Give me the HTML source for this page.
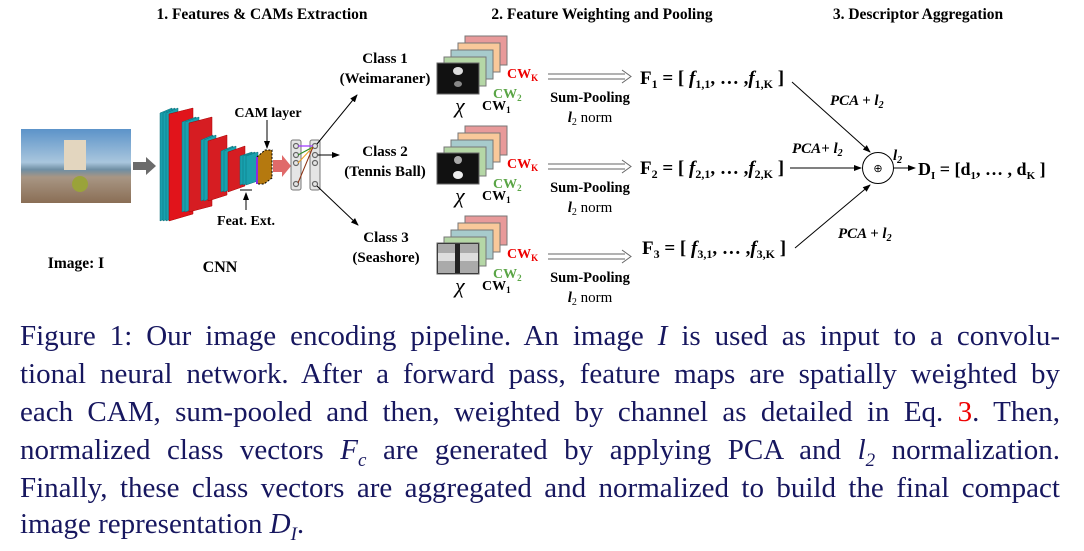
<!DOCTYPE html>
<html><head><meta charset="utf-8"><style>
html,body{margin:0;padding:0;background:#fff;}
body{width:1084px;height:545px;position:relative;overflow:hidden;font-family:"Liberation Serif",serif;}
svg{position:absolute;left:0;top:0;}
.cap{position:absolute;left:20px;width:1040px;font-size:29px;color:#17175f;text-align:justify;text-align-last:justify;white-space:nowrap;line-height:32px;}
.cap.last{text-align-last:left;}
</style></head><body>
<svg width="1084" height="310" viewBox="0 0 1084 310" font-family="Liberation Serif, serif">
<defs>
<marker id="ah" markerWidth="8" markerHeight="8" refX="7" refY="4" orient="auto" markerUnits="userSpaceOnUse"><path d="M0,1 L8,4 L0,7 z" fill="#000"/></marker>
<linearGradient id="sky" x1="0" y1="0" x2="0" y2="1"><stop offset="0" stop-color="#5c93c9"/><stop offset="0.45" stop-color="#a9c6dd"/><stop offset="0.55" stop-color="#6f8ea3"/><stop offset="0.65" stop-color="#a89684"/><stop offset="1" stop-color="#8a6e55"/></linearGradient>
</defs>
<g font-weight="bold" font-size="15.5" text-anchor="middle">
<text x="262" y="19">1. Features &amp; CAMs Extraction</text>
<text x="602" y="19">2. Feature Weighting and Pooling</text>
<text x="918" y="19">3. Descriptor Aggregation</text>
</g>
<rect x="21" y="129" width="110" height="74" fill="url(#sky)"/>
<rect x="64" y="140" width="22" height="30" fill="#e3d6bf"/>
<circle cx="80" cy="184" r="8" fill="#9aa33a"/>
<path d="M133,162 H146 V157 L156,166 L146,175 V170 H133 z" fill="#6b6b6b"/>
<g stroke="#0a6f78" stroke-width="0.5">
<polygon points="160,113 172,108 172,216 160,221" fill="#1aa0ad"/>
<polygon points="163,113 175,108 175,216 163,221" fill="#17a2b0"/>
<polygon points="166,113 178,108 178,216 166,221" fill="#1aa0ad"/>
<polygon points="169,114 193,108 193,214 169,221" fill="#e1141b" stroke="#a00"/>
<polygon points="182,122 196,117 196,207 182,212" fill="#1aa0ad"/>
<polygon points="185,122 199,117 199,207 185,212" fill="#17a2b0"/>
<polygon points="189,123 212,117 212,206 189,212" fill="#d61d22" stroke="#a00"/>
<polygon points="201,140 213,135 213,196 201,201" fill="#1aa0ad"/>
<polygon points="204,140 216,135 216,196 204,201" fill="#17a2b0"/>
<polygon points="208,141 227,135 227,195 208,201" fill="#d61d22" stroke="#a00"/>
<polygon points="221,151 233,146 233,187 221,192" fill="#1aa0ad"/>
<polygon points="224,151 236,146 236,187 224,192" fill="#17a2b0"/>
<polygon points="228,152 245,146 245,186 228,192" fill="#d61d22" stroke="#a00"/>
<polygon points="240,156 252,152 252,181 240,185" fill="#1aa0ad"/>
<polygon points="243,156 255,152 255,181 243,185" fill="#17a2b0"/>
<polygon points="246,156 258,152 258,181 246,185" fill="#1aa0ad"/>
</g>
<polygon points="257,157 265,150 272,150 272,178 264,184 257,184" fill="#b5790f" stroke="#000" stroke-dasharray="2,1.5"/>
<line x1="257" y1="157" x2="257" y2="184" stroke="#8a2be2" stroke-width="2"/>
<text x="268" y="117" font-weight="bold" font-size="14" text-anchor="middle">CAM layer</text>
<line x1="267" y1="120" x2="267" y2="148" stroke="#000" marker-end="url(#ah)"/>
<line x1="240" y1="190" x2="252" y2="190" stroke="#000"/>
<line x1="246" y1="210" x2="246" y2="193" stroke="#000" marker-end="url(#ah)"/>
<text x="246" y="225" font-weight="bold" font-size="14" text-anchor="middle">Feat. Ext.</text>
<path d="M273,160 H282 V155 L291,166 L282,177 V172 H273 z" fill="#e06a6a"/>
<rect x="291" y="140" width="10" height="50" rx="2" fill="#e5e5e5" stroke="#777"/>
<rect x="310" y="140" width="10" height="50" rx="2" fill="#e5e5e5" stroke="#777"/>
<g fill="none" stroke="#666" stroke-width="1.2">
<circle cx="296" cy="146" r="2.5"/><circle cx="296" cy="155" r="2.5"/><circle cx="296" cy="163" r="2.5"/><circle cx="296" cy="184" r="2.5"/>
<circle cx="315" cy="146" r="2.5"/><circle cx="315" cy="155" r="2.5"/><circle cx="315" cy="163" r="2.5"/><circle cx="315" cy="184" r="2.5"/>
</g>
<line x1="298" y1="146" x2="313" y2="146" stroke="#a040ff" stroke-width="1.3"/>
<line x1="298" y1="155" x2="313" y2="147" stroke="#2e8b20" stroke-width="1"/>
<line x1="298" y1="163" x2="313" y2="147" stroke="#f0a020" stroke-width="1"/>
<line x1="298" y1="183" x2="313" y2="147" stroke="#8b3010" stroke-width="1"/>
<g stroke="#000" stroke-width="1" marker-end="url(#ah)">
<line x1="317" y1="144" x2="357" y2="95"/>
<line x1="318" y1="155" x2="339" y2="155"/>
<line x1="317" y1="186" x2="358" y2="225"/>
</g>
<g font-weight="bold" font-size="15" text-anchor="middle">
<text x="385" y="63">Class 1</text><text x="385" y="83">(Weimaraner)</text>
<text x="385" y="156">Class 2</text><text x="385" y="176">(Tennis Ball)</text>
<text x="386" y="242">Class 3</text><text x="386" y="262">(Seashore)</text>
<text x="76" y="268" font-size="15.5">Image: I</text>
<text x="220" y="272" font-size="16">CNN</text>
</g>
<g id="st">
<rect x="465" y="36" width="42" height="29" fill="#e89a9a" stroke="#777"/>
<rect x="458" y="43" width="42" height="29" fill="#f9c89a" stroke="#777"/>
<rect x="451" y="50" width="42" height="29" fill="#a7cbcc" stroke="#777"/>
<rect x="444" y="57" width="42" height="29" fill="#b5d7a6" stroke="#777"/>
<rect x="437" y="63" width="42" height="31" fill="#111" stroke="#666"/>
<text x="455" y="113" font-size="22" font-style="italic">χ</text>
<text x="507" y="78" font-weight="bold" font-size="14" fill="#e00">CW<tspan font-size="9" dy="3">K</tspan></text>
<text x="493" y="98" font-weight="bold" font-size="14" fill="#5aa546">CW<tspan font-size="9" dy="3">2</tspan></text>
<text x="482" y="110" font-weight="bold" font-size="14">CW<tspan font-size="9" dy="3">1</tspan></text>
<path d="M548,74 H625 M548,79 H625" stroke="#666" stroke-width="1"/>
<path d="M622,70 L631,76.5 L622,83" fill="none" stroke="#666"/>
<text x="590" y="102" font-weight="bold" font-size="14.5" text-anchor="middle">Sum-Pooling</text>
<text x="590" y="122" font-size="15" text-anchor="middle"><tspan font-style="italic" font-weight="bold">l</tspan><tspan font-size="10" dy="3">2</tspan><tspan dy="-3"> norm</tspan></text>
</g>
<ellipse cx="458" cy="71" rx="5" ry="4" fill="#ddd"/><ellipse cx="458" cy="84" rx="4" ry="3" fill="#888"/>
<use href="#st" y="90"/>
<ellipse cx="458" cy="160" rx="4" ry="4" fill="#aaa"/><ellipse cx="458" cy="175" rx="5" ry="4" fill="#eee"/>
<use href="#st" y="180"/>
<rect x="438" y="244" width="40" height="29" fill="#aaa"/>
<rect x="438" y="253" width="40" height="8" fill="#ddd"/><rect x="455" y="244" width="5" height="29" fill="#222"/>
<g font-weight="bold" font-size="19">
<text x="640" y="84">F<tspan font-size="12" dy="4">1</tspan><tspan dy="-4"> = [ </tspan><tspan font-style="italic">f</tspan><tspan font-size="12" dy="4">1,1</tspan><tspan dy="-4">, … ,</tspan><tspan font-style="italic">f</tspan><tspan font-size="12" dy="4">1,K</tspan><tspan dy="-4"> ]</tspan></text>
<text x="640" y="174">F<tspan font-size="12" dy="4">2</tspan><tspan dy="-4"> = [ </tspan><tspan font-style="italic">f</tspan><tspan font-size="12" dy="4">2,1</tspan><tspan dy="-4">, … ,</tspan><tspan font-style="italic">f</tspan><tspan font-size="12" dy="4">2,K</tspan><tspan dy="-4"> ]</tspan></text>
<text x="642" y="254">F<tspan font-size="12" dy="4">3</tspan><tspan dy="-4"> = [ </tspan><tspan font-style="italic">f</tspan><tspan font-size="12" dy="4">3,1</tspan><tspan dy="-4">, … ,</tspan><tspan font-style="italic">f</tspan><tspan font-size="12" dy="4">3,K</tspan><tspan dy="-4"> ]</tspan></text>
<text x="918" y="175" font-size="18">D<tspan font-size="11" dy="4">I</tspan><tspan dy="-4"> = [d</tspan><tspan font-size="11" dy="4">1</tspan><tspan dy="-4">, … , d</tspan><tspan font-size="11" dy="4">K</tspan><tspan dy="-4"> ]</tspan></text>
</g>
<g stroke="#000" stroke-width="1" marker-end="url(#ah)">
<line x1="792" y1="82" x2="870" y2="152"/>
<line x1="790" y1="168" x2="861" y2="168"/>
<line x1="795" y1="248" x2="870" y2="185"/>
<line x1="894" y1="168" x2="915" y2="168"/>
</g>
<circle cx="878" cy="168" r="15.5" fill="#fff" stroke="#000"/>
<text x="878" y="172" font-size="11" text-anchor="middle">⊕</text>
<g font-weight="bold" font-style="italic" font-size="15">
<text x="830" y="105">PCA + l<tspan font-size="10" dy="3">2</tspan></text>
<text x="792" y="153">PCA+ l<tspan font-size="10" dy="3">2</tspan></text>
<text x="838" y="238">PCA + l<tspan font-size="10" dy="3">2</tspan></text>
<text x="893" y="160">l<tspan font-size="10" dy="3">2</tspan></text>
</g>
</svg>
<div class="cap" style="top:320px">Figure 1: Our image encoding pipeline. An image <i>I</i> is used as input to a convolu-</div>
<div class="cap" style="top:358px">tional neural network. After a forward pass, feature maps are spatially weighted by</div>
<div class="cap" style="top:396px">each CAM, sum-pooled and then, weighted by channel as detailed in Eq. <span style="color:#e00">3</span>. Then,</div>
<div class="cap" style="top:434px">normalized class vectors <i>F<sub style="font-size:19px">c</sub></i> are generated by applying PCA and <i>l<sub style="font-size:19px">2</sub></i> normalization.</div>
<div class="cap" style="top:472px">Finally, these class vectors are aggregated and normalized to build the final compact</div>
<div class="cap last" style="top:508px">image representation <i>D<sub style="font-size:19px">I</sub></i>.</div>
</body></html>
